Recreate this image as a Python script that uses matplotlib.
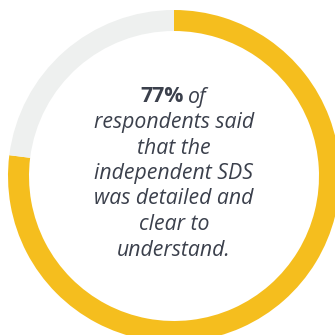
import matplotlib.pyplot as plt

# survey result
share = 77
values = [share, 100 - share]
colors = ["#F5BE1E", "#EEF0EF"]

lines = [
    "respondents said",
    "that the",
    "independent SDS",
    "was detailed and",
    "clear to",
    "understand.",
]

fig = plt.figure(figsize=(3.35, 3.35), dpi=100)
ax = fig.add_axes([0, 0, 1, 1])
ax.set_xlim(0, 335)
ax.set_ylim(0, 335)
ax.set_aspect("equal")
ax.axis("off")

cx, cy = 174, 335 - 176
ax.pie(values, colors=colors, center=(cx, cy), radius=166, startangle=90,
       counterclock=False, wedgeprops=dict(width=21, linewidth=0))
ax.set_xlim(0, 335)
ax.set_ylim(0, 335)

txt_color = "#3B404C"
fs = 15.3

# first line: bold number + italic "of"
y0 = 335 - 97
ax.text(184, y0, f"{share}%", ha="right", va="center", fontsize=fs,
        fontweight="bold", family="Open Sans", color=txt_color)
ax.text(188, y0, "of", ha="left", va="center", fontsize=fs,
        style="italic", family="Open Sans", color=txt_color)

for i, line in enumerate(lines):
    ax.text(cx, y0 - 25.5 * (i + 1), line, ha="center", va="center",
            fontsize=fs, style="italic", family="Open Sans", color=txt_color)

fig.savefig("out.png", dpi=100)
